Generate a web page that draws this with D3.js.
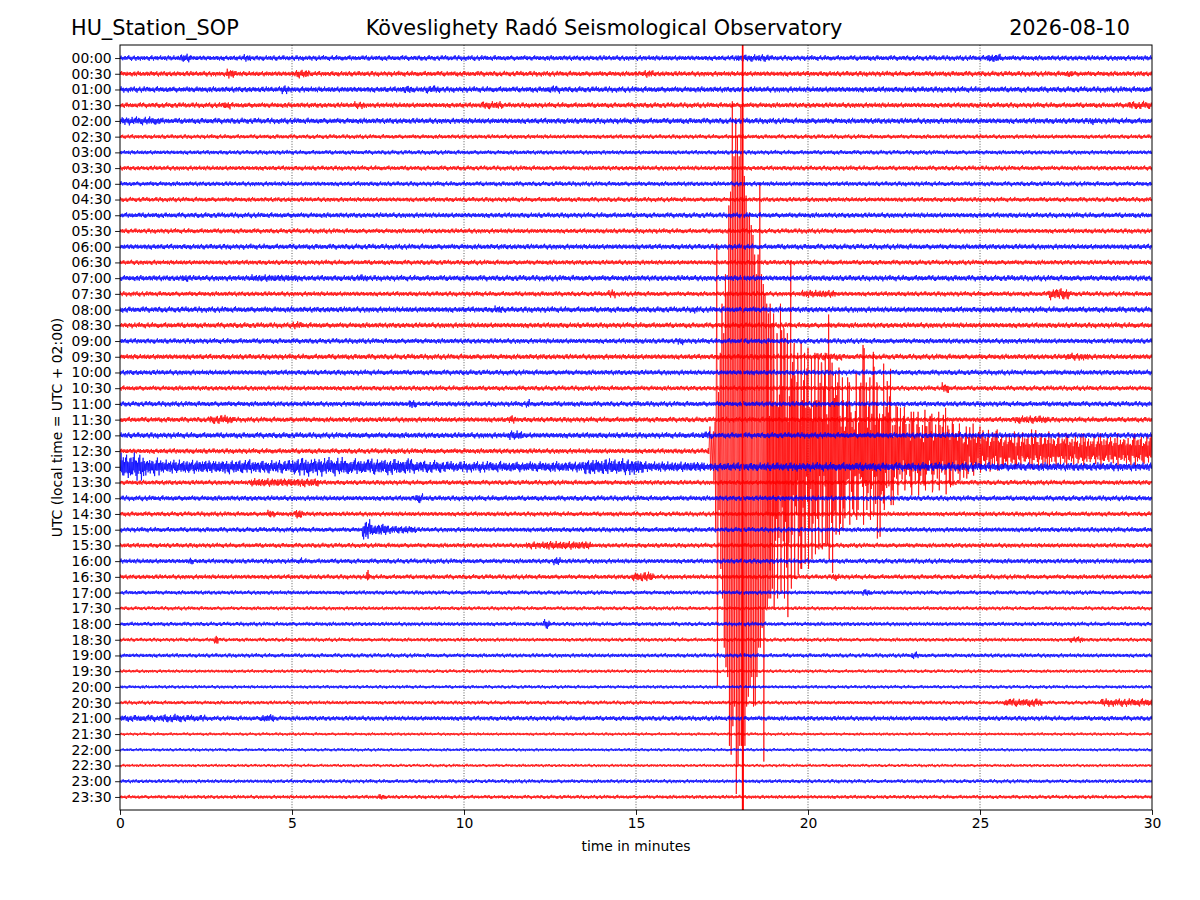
<!DOCTYPE html>
<html><head><meta charset="utf-8">
<script src="https://cdn.jsdelivr.net/npm/d3@7"></script>
<style>body{margin:0;background:#fff} text{font-family:"DejaVu Sans",sans-serif;fill:#000}</style>
</head><body><svg id="c" width="1200" height="900"></svg>
<script>
// ---------------- DATA ----------------
const titleLeft = "HU_Station_SOP";
const titleCenter = "Köveslighety Radó Seismological Observatory";
const titleRight = "2026-08-10";
const xLabel = "time in minutes";
const yLabel = "UTC (local time = UTC + 02:00)";

const rowLabels = ["00:00","00:30","01:00","01:30","02:00","02:30","03:00","03:30","04:00","04:30",
  "05:00","05:30","06:00","06:30","07:00","07:30","08:00","08:30","09:00","09:30",
  "10:00","10:30","11:00","11:30","12:00","12:30","13:00","13:30","14:00","14:30",
  "15:00","15:30","16:00","16:30","17:00","17:30","18:00","18:30","19:00","19:30",
  "20:00","20:30","21:00","21:30","22:00","22:30","23:00","23:30"];
const traceColors = ["#0000ff", "#ff0000"];   // full hour, half hour

const xTicks = [0, 5, 10, 15, 20, 25, 30];
const gridMinutes = [5, 10, 15, 20, 25];

// background noise level (peak counts) of each line
const noiseAmp = [3.0,3.0,3.3,3.0,3.3,2.5,2.5,2.7,2.7,2.7,
  3.0,2.8,3.1,2.8,3.3,2.8,3.3,3.1,3.0,3.1,
  3.0,2.8,3.0,3.0,3.3,3.0,4.8,2.8,3.0,2.7,
  2.8,2.7,2.8,2.7,2.4,2.2,2.4,2.2,2.4,2.0,
  2.0,2.2,2.8,1.8,1.8,1.8,2.2,2.2];

// local bursts: [line, start minute, end minute, peak counts]
const bursts = [
  ["00:00",1.75,2.05,5],["00:00",3.6,3.8,4.2],["00:00",17.9,18.9,4.2],["00:00",25.2,25.6,5],
  ["00:30",3.1,3.35,5.5],["00:30",5.1,5.5,5],["00:30",15.2,15.5,4.2],["00:30",27.5,27.7,4.2],
  ["01:00",4.7,4.9,5],["01:00",8.2,8.5,4.6],["01:00",8.9,9.3,4.5],["01:00",12.4,12.8,4.2],
  ["01:30",3.0,3.2,4.6],["01:30",6.8,7.1,4.2],["01:30",10.5,11.1,4.5],["01:30",29.3,30,4.5],
  ["02:00",0,1.2,4.6],["02:00",28.2,28.4,4.2],
  ["07:00",1.8,2.0,4.6],["07:00",3.8,5.2,4.3],["07:00",6.9,7.2,4.2],
  ["07:30",14.2,14.4,4.6],["07:30",19.8,20.8,4.5],["07:30",27.0,27.6,6.5],
  ["08:00",10.9,11.1,4.6],["08:00",16.6,16.8,4.2],
  ["08:30",5.0,5.3,4.2],
  ["09:00",16.2,16.4,4.2],
  ["09:30",20.2,21,4.2],["09:30",27.5,28.2,4.2],
  ["10:30",23.9,24.1,6],
  ["11:00",8.4,8.6,5],["11:00",11.8,11.9,5],
  ["11:30",2.6,3.3,5],["11:30",11.3,11.5,4.6],["11:30",26.0,27.0,4.6],
  ["12:00",11.3,11.7,5.5],["12:00",16.9,17.2,4.6],
  ["13:00",0,0.7,15],["13:00",0.7,1.2,10],["13:00",1.2,3.8,8],["13:00",3.8,5,7.5],["13:00",5,6.6,10],
  ["13:00",6.6,8.5,9],["13:00",8.5,9.4,7],["13:00",9.4,13.5,6],["13:00",13.5,15.2,9],["13:00",15.2,17,6],
  ["13:30",3.8,5.8,5],
  ["14:00",8.6,8.8,5.5],
  ["14:30",4.3,4.5,4.6],["14:30",5.1,5.3,6],
  ["15:00",7.05,7.3,11],["15:00",7.3,7.8,7],["15:00",7.8,8.6,4.6],
  ["15:30",11.8,12.3,4.2],["15:30",12.3,13.7,5],
  ["16:00",2.0,2.1,4.6],["16:00",5.2,5.3,4.2],["16:00",12.6,12.8,5],
  ["16:30",7.15,7.25,7],["16:30",14.9,15.5,5.5],["16:30",20.7,20.9,4.2],
  ["17:00",21.6,21.8,4],
  ["18:00",12.3,12.5,5.5],
  ["18:30",2.75,2.85,6.5],["18:30",27.6,28,3.6],
  ["19:00",23,23.2,4],
  ["20:30",25.7,26.8,4.6],["20:30",28.5,30,4.4],
  ["21:00",0,2.5,3.8],["21:00",1.2,1.8,4.6],["21:00",4.1,4.5,4.6],
  ["23:30",7.5,7.7,3.5]
];

// earthquake on the 12:30 line: minute, peak up, peak down (counts)
const eqRow = "12:30";
const eqTime = [17.10,17.15,17.20,17.25,17.30,17.35,17.40,17.45,17.50,17.55,17.60,17.65,17.70,17.75,17.80,17.85,17.90,17.95,
  18.00,18.05,18.10,18.15,18.20,18.25,18.30,18.35,18.40,18.45,18.50,18.55,18.60,18.65,18.70,18.75,18.80,18.85,18.90,18.95,
  19.00,19.10,19.20,19.30,19.40,19.50,19.60,19.70,19.80,19.90,20.00,20.10,20.20,20.30,20.40,20.50,20.60,20.70,20.80,20.90,
  21.00,21.20,21.40,21.60,21.80,21.90,22.00,22.20,22.40,22.60,22.80,23.00,23.20,23.40,23.60,23.80,24.00,24.20,24.40,24.60,
  24.80,25.00,25.50,26.00,26.50,27.00,27.50,28.00,28.50,29.00,29.50];
const eqUp = [3,25,15,20,30,211,60,100,150,120,180,160,250,264,356,300,339,320,
  300,350,500,280,260,240,243,230,220,200,180,200,273,180,170,160,150,140,150,130,
  140,120,150,125,120,194,110,100,110,100,105,95,100,95,90,100,139,90,80,85,
  75,70,80,108,75,101,70,89,55,45,45,40,40,42,38,40,44,30,28,25,
  28,25,22,20,22,20,18,18,18,18,18];
const eqDown = [3,20,15,30,80,239,60,120,150,200,220,230,300,309,280,260,349,320,
  300,300,500,300,260,250,240,230,260,259,230,200,200,180,316,160,160,150,150,140,
  160,150,145,150,169,140,130,126,120,115,120,110,105,100,100,95,110,124,85,85,
  80,75,70,75,70,65,89,60,55,45,40,45,45,40,42,40,44,35,30,28,
  25,22,20,18,18,16,16,15,16,15,16];

// trace texture (shape of one noise cycle, fraction of the local peak level)
const WIGGLE = [0.62,-0.48,0.91,-0.73,0.38,-0.95,0.55,-0.41,0.84,-0.66,1.0,-0.52,
  0.44,-0.88,0.71,-0.35,0.97,-0.6,0.5,-0.79,0.68,-1.0,0.4,-0.57];
const WIGGLE_MOD = [1.0,0.72,0.9,0.6,0.95,0.8,0.55,1.0,0.68,0.88,0.62,0.97,0.75,0.58,
  0.92,0.7,1.0,0.64,0.85,0.78,0.6,0.94,0.7,0.83,1.0,0.57,0.9,0.66,0.8,0.98,0.62,0.87,
  0.73,0.95,0.59,0.82,0.76];

// ---------------- CHART ----------------
const m = {left: 120, right: 1152, top: 45, bottom: 810};
const FS = 13.9;
const svg = d3.select("#c");

const x = d3.scaleLinear().domain([0, 30]).range([m.left, m.right]);
const y = d3.scalePoint().domain(rowLabels).range([m.top, m.bottom]).padding(0.83);
const amp = d3.scaleLinear().domain([0, 16]).range([0, y.step()]);

svg.append("defs").append("clipPath").attr("id", "plotclip")
  .append("rect").attr("x", m.left).attr("y", m.top)
  .attr("width", m.right - m.left).attr("height", m.bottom - m.top);

// grid
svg.append("g").selectAll("line").data(gridMinutes).join("line")
  .attr("x1", d => x(d)).attr("x2", d => x(d))
  .attr("y1", m.top).attr("y2", m.bottom)
  .attr("stroke", "#333").attr("stroke-width", 0.8)
  .attr("stroke-dasharray", "1,1.6");

const burstsByRow = d3.group(bursts, d => d[0]);
const STEP_PX = 0.55;
const denseEnd = 18.8;   // inside the densest part only the read swings are drawn

function envelope(row, t) {
  let a = noiseAmp[rowLabels.indexOf(row)];
  for (const b of (burstsByRow.get(row) || [])) if (t >= b[1] && t < b[2]) a = Math.max(a, b[3]);
  let up = a, down = a;
  if (row === eqRow && t >= eqTime[0]) {
    const j = d3.bisectRight(eqTime, t) - 1;
    up = Math.max(up, eqUp[j]); down = Math.max(down, eqDown[j]);
  }
  return [up, down];
}

function tracePoints(row, ri) {
  const pts = [];
  const n = Math.floor((m.right - m.left) / STEP_PX);
  for (let k = 0; k <= n; k++) {
    const t = x.invert(m.left + k * STEP_PX);
    if (row === eqRow && t > eqTime[0] && t < denseEnd) continue;
    const w = WIGGLE[(k + ri * 7) % WIGGLE.length] * WIGGLE_MOD[(k + ri * 11) % WIGGLE_MOD.length];
    const [up, down] = envelope(row, t);
    pts.push({t, v: w >= 0 ? w * up : w * down});
  }
  if (row === eqRow) {
    eqTime.forEach((t, i) => {
      pts.push({t: t, v: eqUp[i]});
      pts.push({t: t + 0.016, v: -eqDown[i]});
    });
    pts.sort((a, b) => a.t - b.t);
  }
  return pts;
}

const traceG = svg.append("g").attr("clip-path", "url(#plotclip)");
const order = rowLabels.map((r, i) => i).sort((a, b) => (b % 2) - (a % 2) || a - b); // red lines first, blue on top
for (const ri of order) {
  const row = rowLabels[ri];
  const line = d3.line().x(d => x(d.t)).y(d => y(row) - amp(d.v));
  traceG.append("path")
    .attr("d", line(tracePoints(row, ri)))
    .attr("fill", "none")
    .attr("stroke", traceColors[ri % 2])
    .attr("stroke-width", 0.75)
    .attr("stroke-linejoin", "miter");
}
// strongest, off-scale swing of the earthquake drawn on top
const offScale = eqTime.map((t, i) => i).filter(i => eqUp[i] >= 400);
traceG.selectAll("line.main").data(offScale).join("line")
  .attr("x1", i => x(eqTime[i])).attr("x2", i => x(eqTime[i]))
  .attr("y1", i => y(eqRow) - amp(eqUp[i])).attr("y2", i => y(eqRow) + amp(eqDown[i]))
  .attr("stroke", traceColors[1]).attr("stroke-width", 1.6);

// axes
const yAxis = d3.axisLeft(y).tickSize(4.9).tickPadding(3.5);
const gy = svg.append("g").attr("transform", `translate(${m.left},0)`).call(yAxis);
const xAxis = d3.axisBottom(x).tickValues(xTicks).tickFormat(d3.format("d")).tickSize(4.9).tickPadding(3.5);
const gx = svg.append("g").attr("transform", `translate(0,${m.bottom})`).call(xAxis);
[gx, gy].forEach(g => {
  g.select(".domain").remove();
  g.selectAll("text").attr("font-size", FS).attr("font-family", "DejaVu Sans").attr("fill", "#000");
  g.selectAll("line").attr("stroke", "#000").attr("stroke-width", 0.9);
});

svg.append("rect").attr("x", m.left).attr("y", m.top)
  .attr("width", m.right - m.left).attr("height", m.bottom - m.top)
  .attr("fill", "none").attr("stroke", "#000").attr("stroke-width", 1);

// titles & labels
svg.append("text").attr("x", 71).attr("y", 35).attr("font-size", 20.8).text(titleLeft);
svg.append("text").attr("x", 604).attr("y", 35).attr("font-size", 20.8).attr("text-anchor", "middle").text(titleCenter);
svg.append("text").attr("x", 1130).attr("y", 35).attr("font-size", 20.8).attr("text-anchor", "end").text(titleRight);
svg.append("text").attr("x", (m.left + m.right) / 2).attr("y", 851).attr("font-size", FS)
  .attr("text-anchor", "middle").text(xLabel);
svg.append("text").attr("transform", `translate(62,${(m.top + m.bottom) / 2}) rotate(-90)`)
  .attr("font-size", FS).attr("text-anchor", "middle").text(yLabel);
</script>
</body></html>
